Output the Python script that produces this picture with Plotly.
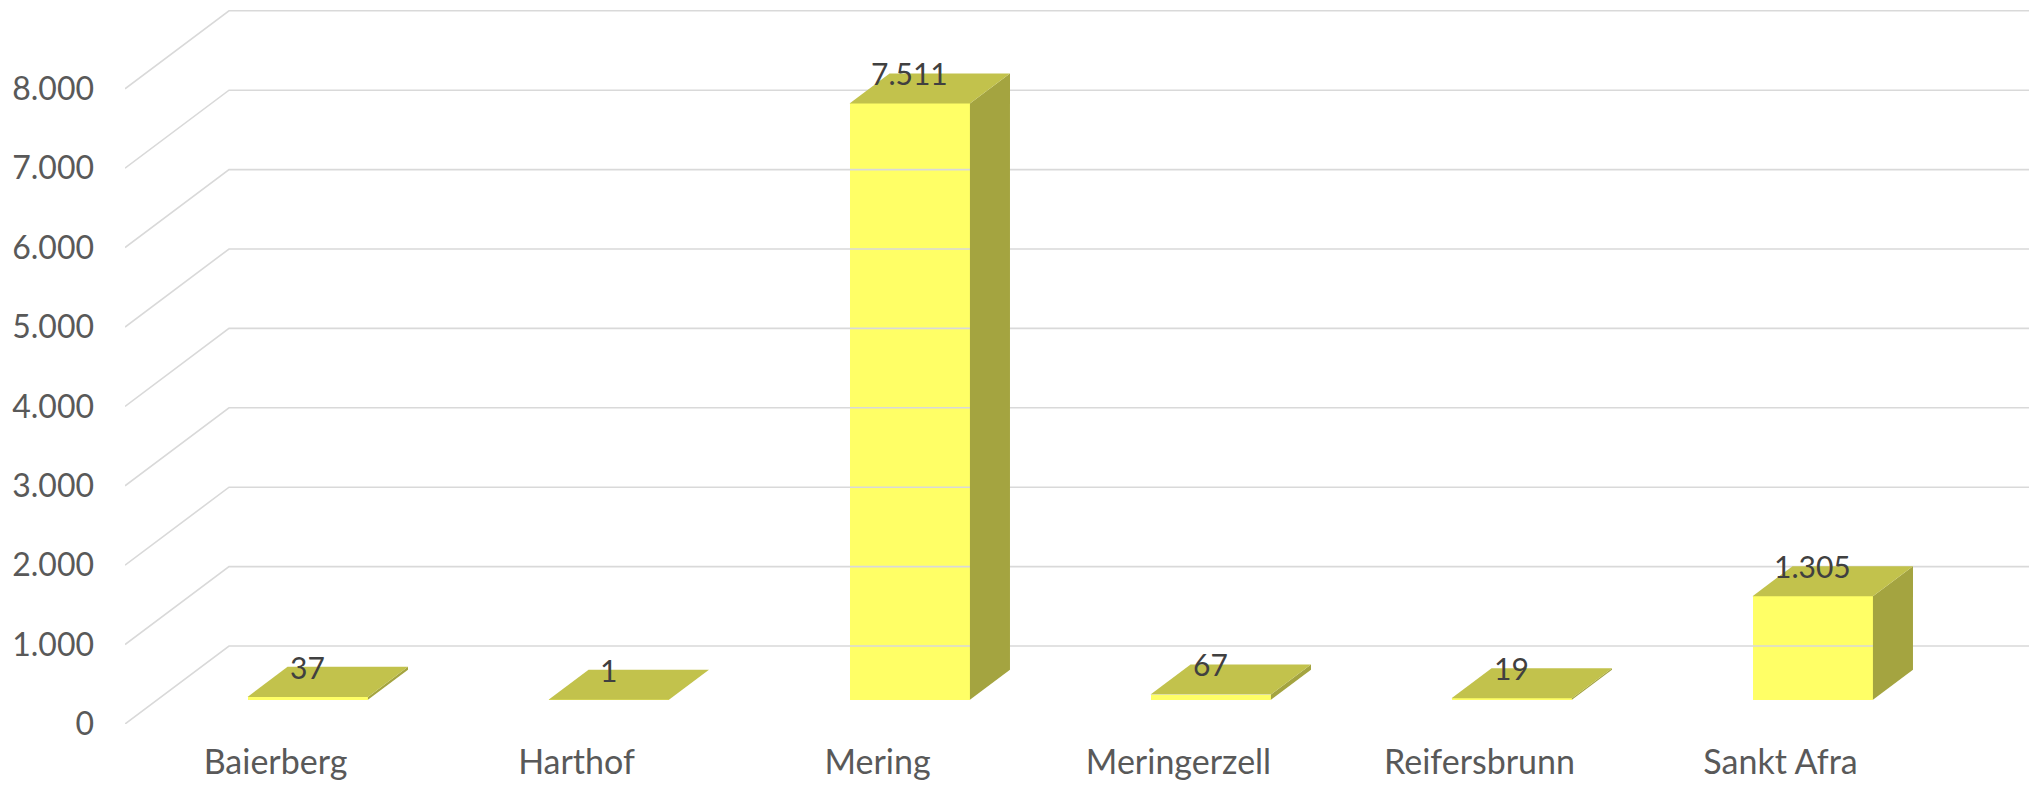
import plotly.graph_objects as go

# ---- data ----
categories = ["Baierberg", "Harthof", "Mering", "Meringerzell", "Reifersbrunn", "Sankt Afra"]
values = [37, 1, 7511, 67, 19, 1305]
y_ticks = [0, 1000, 2000, 3000, 4000, 5000, 6000, 7000, 8000]

# ---- styling / geometry constants ----
W, H = 2029, 786
ML, MR, MT, MB = 125, 0, 0, 62
PX_PER_CAT = 301.0          # pixels per category
PX_PER_1000 = 79.4          # pixels per 1000 units
DEPTH_PX_X, DEPTH_PX_Y = 104.0, 78.0
F0, F1 = 0.31, 0.695        # bar front / back as fraction of depth
BAR_W = 0.40                # bar width in category units

DX = DEPTH_PX_X / PX_PER_CAT
DY = DEPTH_PX_Y / PX_PER_1000 * 1000
x_min = -0.5
x_max = x_min + (W - ML - MR) / PX_PER_CAT
y_max = (H - MT - MB) / PX_PER_1000 * 1000

FRONT = "#FFFF66"
TOP = "#C2C24C"
SIDE = "#A4A440"
GRID = "#D9D9D9"
FONT = "Lato"

fig = go.Figure()

# back wall + side wall gridlines
gx, gy = [], []
for v in y_ticks:
    gx += [x_min, x_min + DX, x_max, None]
    gy += [v, v + DY, v + DY, None]
fig.add_trace(go.Scatter(x=gx, y=gy, mode="lines", line=dict(color=GRID, width=1.6),
                         hoverinfo="skip", showlegend=False))

# bars: side and top faces
base = F0 * DY
ddx = (F1 - F0) * DX
ddy = (F1 - F0) * DY
for i, v in enumerate(values):
    xc = i + F0 * DX
    x0, x1 = xc - BAR_W / 2, xc + BAR_W / 2
    top = base + v
    fig.add_trace(go.Scatter(
        x=[x1, x1, x1 + ddx, x1 + ddx, x1], y=[base, top, top + ddy, base + ddy, base],
        mode="lines", fill="toself", fillcolor=SIDE, line=dict(width=0),
        hoverinfo="skip", showlegend=False))
    fig.add_trace(go.Scatter(
        x=[x0, x1, x1 + ddx, x0 + ddx, x0], y=[top, top, top + ddy, top + ddy, top],
        mode="lines", fill="toself", fillcolor=TOP, line=dict(width=0),
        hoverinfo="skip", showlegend=False))

# front faces
fig.add_trace(go.Bar(
    x=[i + F0 * DX for i in range(len(values))], y=values, base=[base] * len(values),
    width=BAR_W, marker=dict(color=FRONT, line=dict(width=0)), showlegend=False,
    hoverinfo="skip"))

# data labels
for i, v in enumerate(values):
    fig.add_annotation(x=i + F0 * DX, y=base + v + ddy, text=f"{v:,}".replace(",", "."),
                       showarrow=False, xanchor="center", yanchor="middle",
                       font=dict(family=FONT, size=30, color="#404040"))

fig.update_layout(
    width=W, height=H, autosize=False,
    margin=dict(l=ML, r=MR, t=MT, b=MB),
    paper_bgcolor="white", plot_bgcolor="white",
    separators=",.",
    bargap=0,
    font=dict(family=FONT, size=32, color="#595959"),
    xaxis=dict(range=[x_min, x_max], tickvals=list(range(len(categories))), ticktext=categories,
               tickfont=dict(size=34),
               showgrid=False, zeroline=False, showline=False, ticks="", ticklabelstandoff=15,
               fixedrange=True),
    yaxis=dict(range=[0, y_max], tickvals=y_ticks, tickformat=",d",
               showgrid=False, zeroline=False, showline=False, ticks="", ticklabelstandoff=30,
               fixedrange=True),
)

fig.write_html("out.html", config={"displayModeBar": False},
               post_script="document.body.style.margin='0';document.body.style.overflow='hidden';")
